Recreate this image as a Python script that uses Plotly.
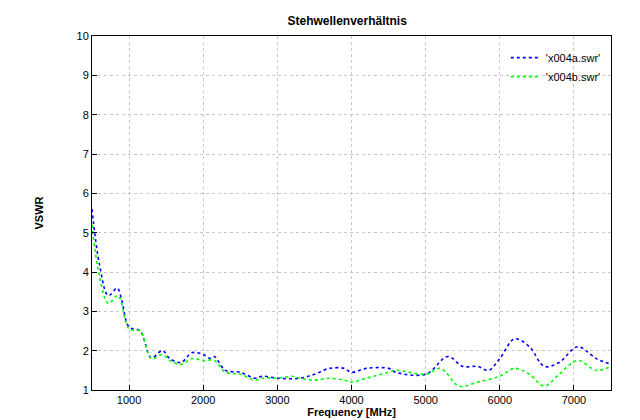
import plotly.graph_objects as go

freq_a = [500,600,720,840,900,1000,1150,1300,1450,1550,1700,1850,2000,2100,2150,2300,2500,2700,2800,3000,3300,3500,3700,3900,4000,4200,4500,4600,5000,5300,5500,5700,5850,6000,6200,6400,6600,6800,7050,7300,7500]
vswr_a = [5.6,4.2,3.4,3.59,3.3,2.6,2.5,1.82,2.0,1.8,1.7,1.95,1.9,1.8,1.85,1.5,1.45,1.3,1.35,1.3,1.3,1.4,1.55,1.55,1.45,1.55,1.55,1.45,1.4,1.85,1.6,1.6,1.5,1.8,2.3,2.1,1.6,1.7,2.1,1.8,1.65]
freq_b = [500,600,720,850,1000,1150,1300,1450,1550,1700,1850,2000,2150,2300,2500,2700,2800,3000,3200,3300,3500,3700,3900,4000,4200,4500,4600,5000,5200,5450,5700,6000,6200,6400,6600,6800,7050,7300,7500]
vswr_b = [5.2,3.9,3.2,3.4,2.55,2.5,1.8,1.9,1.75,1.65,1.8,1.75,1.75,1.45,1.4,1.25,1.3,1.3,1.35,1.3,1.25,1.3,1.25,1.2,1.3,1.45,1.5,1.4,1.55,1.1,1.2,1.35,1.55,1.4,1.1,1.4,1.75,1.5,1.6]

fig = go.Figure()
fig.add_trace(go.Scatter(x=freq_a, y=vswr_a, mode="lines", name="'x004a.swr'",
                         line=dict(color="#0000ff", width=1.6, dash="dot", shape="spline")))
fig.add_trace(go.Scatter(x=freq_b, y=vswr_b, mode="lines", name="'x004b.swr'",
                         line=dict(color="#00ff00", width=1.6, dash="dot", shape="spline")))
ax = dict(showgrid=True, gridcolor="#c8c8c8", griddash="dot", gridwidth=1,
          showline=True, linecolor="black", mirror=True, ticks="inside",
          tickcolor="black", zeroline=False,
          tickfont=dict(family="Liberation Sans", size=11, color="black"))
fig.update_layout(
    width=640, height=420, plot_bgcolor="white", paper_bgcolor="white",
    font=dict(family="Liberation Sans", color="black"),
    margin=dict(l=84, r=37, t=28, b=32),
    title=dict(text="<b>Stehwellenverhältnis</b>", x=0.53, y=0.98, xanchor="center",
               font=dict(family="Liberation Sans", size=12, color="black")),
    xaxis=dict(ax, range=[500, 7500], tickvals=[1000,2000,3000,4000,5000,6000,7000],
               title=dict(text="<b>Frequency [MHz]</b>", standoff=2,
                          font=dict(family="Liberation Sans", size=11, color="black"))),
    yaxis=dict(ax, range=[1, 10], dtick=1,
               title=dict(text="<b>VSWR</b>", standoff=30,
                          font=dict(family="Liberation Sans", size=11, color="black"))),
    legend=dict(x=0.99, y=0.98, xanchor="right", yanchor="top", bgcolor="rgba(0,0,0,0)",
                font=dict(family="Liberation Sans", size=11, color="black"), traceorder="normal"),
    showlegend=True,
)
fig.write_html("out.html")
